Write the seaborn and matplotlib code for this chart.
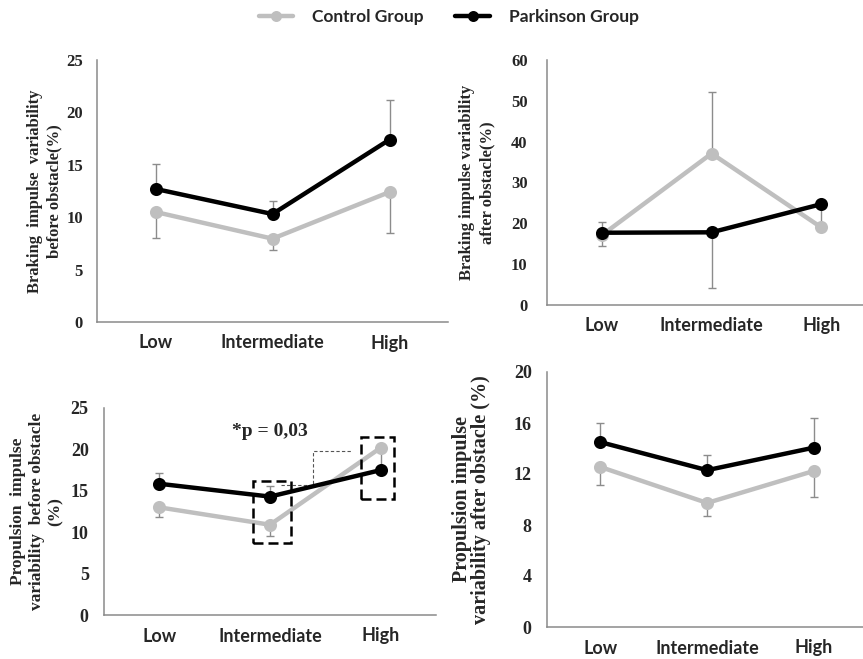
import matplotlib
matplotlib.use('Agg')
import matplotlib.pyplot as plt
from matplotlib.patches import Rectangle
import pandas as pd
import seaborn as sns

levels = ['Low', 'Intermediate', 'High']
groups = ['Control Group', 'Parkinson Group']

# braking impulse variability before obstacle (top left)
brk_pre_ctrl = [10.5, 7.95, 12.4]
brk_pre_park = [12.7, 10.3, 17.4]
brk_pre_ctrl_lo = [2.5, 1.05, 3.9]
brk_pre_park_hi = [2.4, 1.2, 3.8]

# braking impulse variability after obstacle (top right)
brk_post_ctrl = [17.1, 37.1, 19.0]
brk_post_park = [17.7, 17.8, 24.7]
brk_post_ctrl_lo = [2.6, 0, 0]
brk_post_ctrl_hi = [0, 15.1, 0]
brk_post_park_lo = [0, 13.7, 5.4]
brk_post_park_hi = [2.7, 0, 0]

# propulsion impulse variability before obstacle (bottom left)
prp_pre_ctrl = [13.0, 10.9, 20.2]
prp_pre_park = [15.85, 14.3, 17.5]
prp_pre_ctrl_lo = [1.2, 1.4, 2.6]
prp_pre_park_hi = [1.25, 1.3, 0]

# propulsion impulse variability after obstacle (bottom right)
prp_post_ctrl = [12.55, 9.73, 12.24]
prp_post_park = [14.5, 12.3, 14.07]
prp_post_ctrl_lo = [1.4, 1.05, 2.05]
prp_post_park_hi = [1.5, 1.2, 2.33]

zeros = [0, 0, 0]

CTRL_C = '#bfbfbf'
PARK_C = '#000000'
ERR_C = '#8c8c8c'
SPINE_C = '#8a8a8a'

sns.set_style('white')
plt.rcParams['font.family'] = ['Liberation Serif', 'DejaVu Serif']

W, H = 863, 659
fig = plt.figure(figsize=(W / 100, H / 100), dpi=100)

panels = [
    dict(rect=(97, 448, 60, 322), xmax=2.5, ymax=25, yticks=range(0, 26, 5),
         ctrl=brk_pre_ctrl, park=brk_pre_park,
         cerr=(brk_pre_ctrl_lo, zeros), perr=(zeros, brk_pre_park_hi),
         ylabel='Braking  impulse  variability\nbefore obstacle(%)',
         lsize=12, lspace=1.25, lpad=3, tsize=12, tpad=10),
    dict(rect=(547, 863, 60, 305), xmax=2.38, ymax=60, yticks=range(0, 61, 10),
         ctrl=brk_post_ctrl, park=brk_post_park,
         cerr=(brk_post_ctrl_lo, brk_post_ctrl_hi), perr=(brk_post_park_lo, brk_post_park_hi),
         ylabel='Braking impulse variability\nafter obstacle(%)',
         lsize=12, lspace=1.35, lpad=11, tsize=12, tpad=14),
    dict(rect=(104, 436, 408, 615), xmax=2.5, ymax=25, yticks=range(0, 26, 5),
         ctrl=prp_pre_ctrl, park=prp_pre_park,
         cerr=(prp_pre_ctrl_lo, zeros), perr=(zeros, prp_pre_park_hi),
         ylabel='Propulsion  impulse\nvariability  before obstacle\n(%)',
         lsize=12.5, lspace=1.25, lpad=5, tsize=13, tpad=11),
    dict(rect=(547, 863, 372, 627), xmax=2.46, ymax=20, yticks=range(0, 21, 4),
         ctrl=prp_post_ctrl, park=prp_post_park,
         cerr=(prp_post_ctrl_lo, zeros), perr=(zeros, prp_post_park_hi),
         ylabel='Propulsion impulse\nvariability after obstacle (%)',
         lsize=14.5, lspace=0.95, lpad=16, tsize=13, tpad=11),
]

axes = []
for p in panels:
    l, r, t, b = p['rect']
    ax = fig.add_axes([l / W, 1 - b / H, (r - l) / W, (b - t) / H])
    axes.append(ax)

    df = pd.DataFrame({
        'level': levels * 2,
        'value': p['ctrl'] + p['park'],
        'group': [groups[0]] * 3 + [groups[1]] * 3,
    })

    xs = [0, 1, 2]
    ax.errorbar(xs, p['ctrl'], yerr=[p['cerr'][0], p['cerr'][1]], fmt='none',
                ecolor=ERR_C, elinewidth=1.0, capsize=3, capthick=1.0, zorder=1)
    ax.errorbar(xs, p['park'], yerr=[p['perr'][0], p['perr'][1]], fmt='none',
                ecolor=ERR_C, elinewidth=1.0, capsize=3, capthick=1.0, zorder=1)

    sns.pointplot(data=df, x='level', y='value', hue='group', order=levels,
                  hue_order=groups, palette=[CTRL_C, PARK_C], markers='o',
                  errorbar=None, ax=ax, markersize=7, linewidth=3.2)

    ax.set_xlim(-0.5, p['xmax'])
    ax.set_ylim(0, p['ymax'])
    ax.set_yticks(list(p['yticks']))
    ax.set_yticklabels([str(v) for v in p['yticks']], fontweight='bold', fontsize=p['tsize'])
    ax.set_xticks(xs)
    ax.set_xticklabels(levels, family=['Lato', 'DejaVu Sans'], fontweight='bold', fontsize=13)
    ax.tick_params(axis='both', length=0)
    ax.tick_params(axis='x', pad=9)
    ax.tick_params(axis='y', pad=p['tpad'])
    ax.set_xlabel('')
    ax.set_ylabel(p['ylabel'], fontweight='bold', fontsize=p['lsize'], labelpad=p['lpad'],
                  linespacing=p['lspace'])
    for side in ['top', 'right']:
        ax.spines[side].set_visible(False)
    for side in ['left', 'bottom']:
        ax.spines[side].set_color(SPINE_C)
        ax.spines[side].set_linewidth(1.1)
    ax.grid(False)

handles, labels = axes[0].get_legend_handles_labels()
for ax in axes:
    if ax.get_legend() is not None:
        ax.get_legend().remove()
for h in handles:
    h.set_markersize(5.5)

fig.legend(handles, labels, loc='upper center', bbox_to_anchor=(0.52, 1.01), ncol=2,
           frameon=False, handlelength=2.0, columnspacing=1.8, handletextpad=1.1,
           prop={'family': ['Lato', 'DejaVu Sans'], 'weight': 'bold', 'size': 12.5})

# significance annotation on the propulsion-before panel
ax3 = axes[2]
ax3.text(1.0, 22.2, '*p = 0,03', ha='center', va='center', fontsize=14, fontweight='bold')
ax3.add_patch(Rectangle((0.85, 8.7), 0.34, 7.5, fill=False, ec='black', lw=1.8,
                        ls=(0, (4, 2)), zorder=4))
ax3.add_patch(Rectangle((1.82, 14.0), 0.3, 7.5, fill=False, ec='black', lw=1.8,
                        ls=(0, (4, 2)), zorder=4))
ax3.plot([1.1, 1.39, 1.39, 1.73], [15.7, 15.7, 19.85, 19.85], color='#555555',
         lw=0.8, ls=(0, (3, 2)), zorder=1)

fig.savefig('out.png', dpi=100)
